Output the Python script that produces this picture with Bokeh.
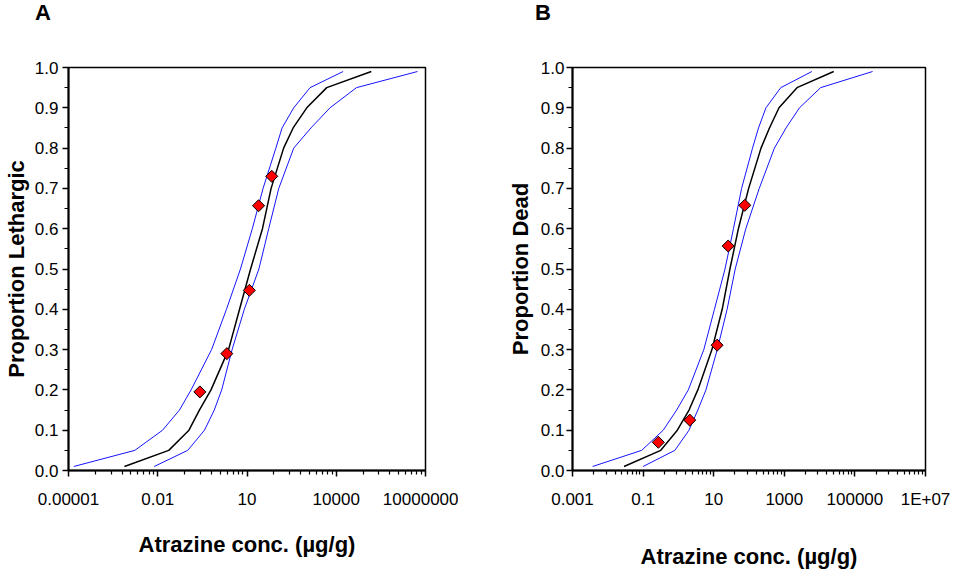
from bokeh.plotting import figure
from bokeh.layouts import row, column
from bokeh.models import FixedTicker, Range1d, NumeralTickFormatter, Div
from bokeh.embed import file_html
from bokeh.resources import INLINE

# ---------------- data ----------------
p_levels = [0.01, 0.05, 0.1, 0.15, 0.2, 0.3, 0.4, 0.5, 0.6, 0.7, 0.8, 0.85, 0.9, 0.95, 0.99]

# Panel A: proportion lethargic
a_fit = [7.6e-4, 0.0234, 0.112, 0.251, 0.617, 2.40, 5.62, 13.2, 33.1, 64.6, 170, 355, 1020, 4790, 151000]
a_lower = [1.51e-5, 1.70e-3, 0.0145, 0.0537, 0.132, 0.646, 2.04, 6.03, 15.1, 34.7, 93.3, 151, 372, 1320, 17000]
a_upper = [7.6e-3, 0.102, 0.372, 0.794, 1.41, 3.16, 8.13, 25.1, 53.7, 117, 372, 1410, 6170, 47900, 5.37e6]
a_obs_x = [0.26, 2.1, 12.0, 24.5, 68]
a_obs_y = [0.195, 0.29, 0.447, 0.657, 0.73]

# Panel B: proportion dead
b_fit = [0.0288, 0.316, 0.933, 2.0, 3.55, 8.91, 17.4, 28.8, 50.1, 97.7, 219, 380, 708, 2290, 25100]
b_lower = [3.72e-3, 0.0912, 0.372, 0.891, 1.91, 5.25, 10.5, 20.9, 36.3, 61.7, 126, 186, 302, 794, 6030]
b_upper = [0.1, 0.794, 2.0, 3.55, 6.03, 12.6, 24.0, 40.7, 81.3, 195, 525, 1120, 2690, 10700, 316000]
b_obs_x = [0.27, 2.1, 12.5, 25.7, 76]
b_obs_y = [0.07, 0.125, 0.311, 0.557, 0.658]

# axis ticks
a_ticks = [1e-5, 1e-2, 10.0, 1e4, 1e7]
a_tick_labels = ["0.00001", "0.01", "10", "10000", "10000000"]
b_ticks = [1e-3, 0.1, 10.0, 1e3, 1e5, 1e7]
b_tick_labels = ["0.001", "0.1", "10", "1000", "100000", "1E+07"]
y_ticks = [0.0, 0.1, 0.2, 0.3, 0.4, 0.5, 0.6, 0.7, 0.8, 0.9, 1.0]
y_minor = [0.05, 0.15, 0.25, 0.35, 0.45, 0.55, 0.65, 0.75, 0.85, 0.95]

FONT = "Liberation Sans"
HEAD_H = 26
FIG_H = 545
W_A, W_B = 458, 492


def make_panel(ylabel, x_start, x_end, ticks, tick_labels, minor_pow,
               fit, lower, upper, obs_x, obs_y, width, borders, xstand, ystand):
    left, right, top, bottom = borders
    p = figure(width=width, height=FIG_H, x_axis_type="log",
               x_range=Range1d(x_start, x_end), y_range=Range1d(0, 1),
               output_backend="svg", toolbar_location=None,
               min_border_left=left, min_border_right=right,
               min_border_top=top, min_border_bottom=bottom)
    p.xgrid.visible = False
    p.ygrid.visible = False
    p.background_fill_color = "white"
    p.border_fill_color = "white"
    p.outline_line_color = "black"
    p.outline_line_width = 1.5
    p.outline_line_alpha = 1.0

    minor = [m * k ** minor_pow for m in ticks[:-1] for k in range(2, 10)]
    p.xaxis.ticker = FixedTicker(ticks=ticks, minor_ticks=minor)
    p.xaxis.major_label_overrides = {t: s for t, s in zip(ticks, tick_labels)}
    p.yaxis.ticker = FixedTicker(ticks=y_ticks, minor_ticks=y_minor)
    p.yaxis.formatter = NumeralTickFormatter(format="0.0")

    for ax in (p.xaxis, p.yaxis):
        ax.axis_line_color = "black"
        ax.axis_line_width = 2
        ax.major_tick_in = 0
        ax.major_tick_out = 6
        ax.minor_tick_in = 0
        ax.minor_tick_out = 4
        ax.major_tick_line_width = 1.5
        ax.minor_tick_line_width = 1.2
        ax.major_tick_line_color = "black"
        ax.minor_tick_line_color = "black"
        ax.major_label_text_font = FONT
        ax.major_label_text_font_size = "17px"
        ax.major_label_text_color = "black"
        ax.axis_label_text_font = FONT
        ax.axis_label_text_font_size = "22px"
        ax.axis_label_text_font_style = "bold"
        ax.axis_label_text_color = "black"

    p.xaxis.axis_label = "Atrazine conc. (µg/g)"
    p.xaxis.major_label_standoff = xstand[0]
    p.xaxis.axis_label_standoff = xstand[1]
    p.yaxis.axis_label = ylabel
    p.yaxis.major_label_standoff = ystand[0]
    p.yaxis.axis_label_standoff = ystand[1]

    p.line(lower, p_levels, line_color="#1414ff", line_width=1)
    p.line(upper, p_levels, line_color="#1414ff", line_width=1)
    p.line(fit, p_levels, line_color="black", line_width=1.5)
    p.scatter(obs_x, obs_y, marker="square", size=8.5, angle=0.785398,
              fill_color="#ff0000", line_color="black", line_width=1)
    return p


def panel_letter(letter, width, indent):
    return Div(text=f'<span style="margin-left:{indent}px;">{letter}</span>',
               width=width, height=HEAD_H, margin=0,
               styles={"font-family": FONT, "font-size": "22px", "font-weight": "bold",
                       "line-height": "25px", "color": "black"})


pa = make_panel("Proportion Lethargic", 1e-5, 1e7, a_ticks, a_tick_labels, 3,
                a_fit, a_lower, a_upper, a_obs_x, a_obs_y, W_A, (65, 33, 37, 101), (16, 24), (4, 3))
pb = make_panel("Proportion Dead", 1e-3, 1e7, b_ticks, b_tick_labels, 2,
                b_fit, b_lower, b_upper, b_obs_x, b_obs_y, W_B, (114, 25, 41, 97), (13, 32), (2, 5))

head = row(panel_letter("A", W_A, 35), panel_letter("B", W_B, 77), spacing=0)
layout = column(head, row(pa, pb, spacing=0), spacing=0)
html = file_html(layout, INLINE)
html = html.replace("</head>", "<style>html, body { overflow: hidden; }</style></head>", 1)
open("out.html", "w").write(html)
